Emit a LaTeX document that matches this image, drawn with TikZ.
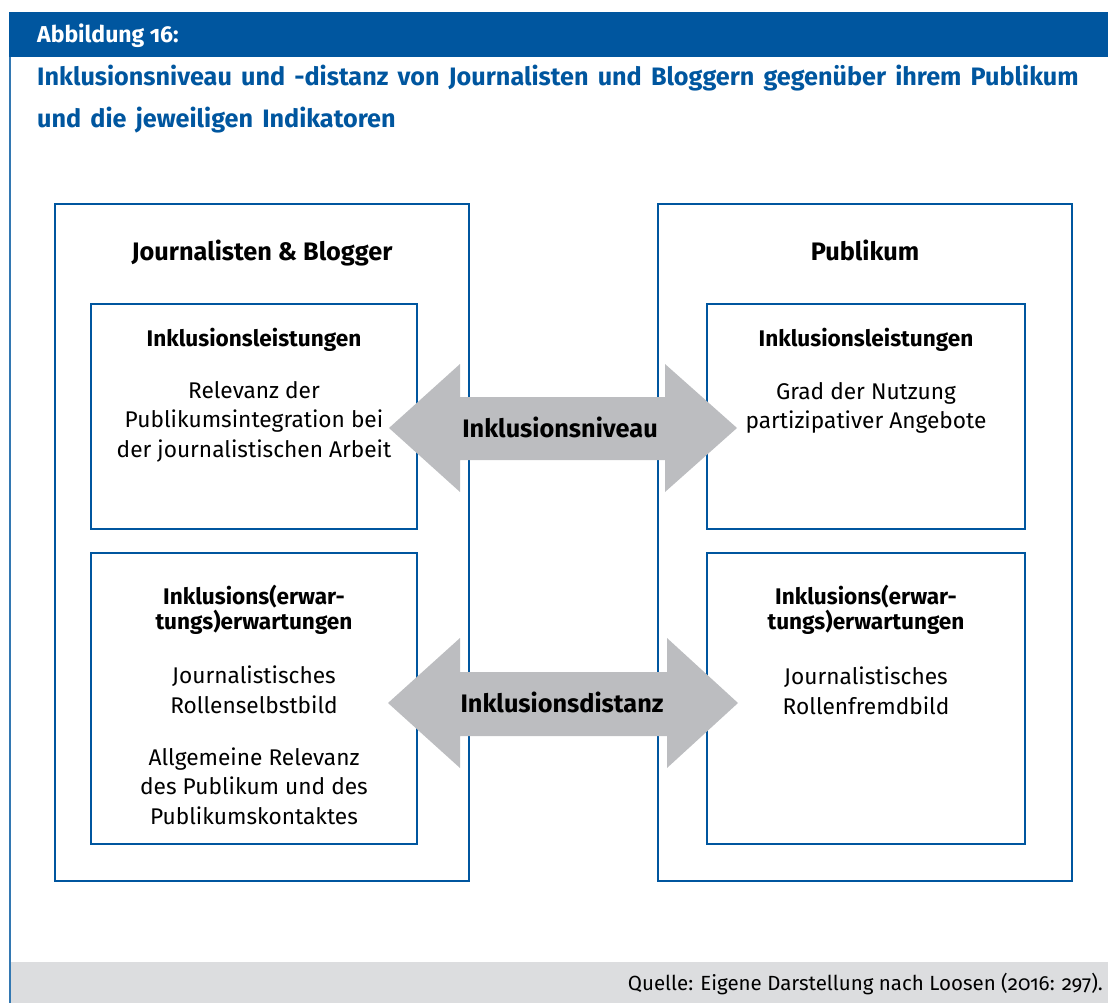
\documentclass[tikz,border=0pt]{standalone}
\usepackage{fontspec}
\setmainfont{Fira Sans}[Numbers=OldStyle]
\definecolor{hblue}{HTML}{00569F}
\definecolor{agray}{HTML}{BCBDC0}
\definecolor{fgray}{HTML}{DCDDDF}
\newcommand\mywordsp{\spaceskip=9.2pt plus 1pt minus 1pt\relax}
\begin{document}
\begin{tikzpicture}[x=1pt,y=-1pt,
  frame/.style={draw=hblue,line width=2.2pt,inner sep=0pt,outer sep=0pt,anchor=north west},
  headtxt/.style={font=\fontsize{23}{26}\selectfont\bfseries,text=white,anchor=base west,inner sep=0pt},
  titletxt/.style={font=\fontsize{25.2}{42}\selectfont\bfseries,text=hblue,anchor=base west,inner sep=0pt,align=left},
  coltitle/.style={font=\fontsize{25.3}{28}\selectfont\bfseries,anchor=base,inner sep=0pt},
  boxhead/.style={font=\fontsize{22.6}{24.5}\selectfont\bfseries,anchor=base,inner sep=0pt,align=center},
  boxbody/.style={font=\fontsize{22.7}{29.5}\selectfont,anchor=base,inner sep=0pt,align=center},
  bigarrow/.style={fill=agray},
  arrowtxt/.style={font=\fontsize{25.3}{28}\selectfont\bfseries,anchor=base,inner sep=0pt},
  foottxt/.style={font=\fontsize{20.5}{24}\selectfont,anchor=base east,inner sep=0pt}]
\useasboundingbox (0,0) rectangle (1108,1003);
% header bar, side line and footer
\fill[hblue] (9,12) rectangle (1108,57);
\fill[fgray] (10,962) rectangle (1108,1003);
\draw[hblue!80,line width=2pt] (10,57) -- (10,1003);
\node[headtxt] (abb) at (37,43) {Abbildung 16:};
\node[titletxt] (title) at (37,128) {\mywordsp Inklusionsniveau und -distanz von Journalisten und Bloggern gegenüber ihrem Publikum\\\mywordsp und die jeweiligen Indikatoren};
\node[foottxt] (quelle) at (1103,990) {Quelle: Eigene Darstellung nach Loosen (2016: 297).};
% outer boxes
\node[frame,minimum width=414pt,minimum height=677pt] (jb) at (55,204) {};
\node[frame,minimum width=414pt,minimum height=677pt] (pub) at (658,204) {};
\node[coltitle] (jbt) at (262,260) {Journalisten \& Blogger};
\node[coltitle] (pubt) at (865,260) {Publikum};
% inner boxes
\node[frame,minimum width=326pt,minimum height=225pt] (jl) at (91,304) {};
\node[frame,minimum width=326pt,minimum height=291pt] (je) at (91,553) {};
\node[frame,minimum width=318pt,minimum height=225pt] (pl) at (707,304) {};
\node[frame,minimum width=318pt,minimum height=291pt] (pe) at (707,553) {};
% inner texts
\node[boxhead] (jlh) at (254,346) {Inklusionsleistungen};
\node[boxbody] (jlb) at (254,457) {Relevanz der\\Publikumsintegration bei\\der journalistischen Arbeit};
\node[boxhead] (jeh) at (254,629) {Inklusions(erwar-\\tungs)erwartungen};
\node[boxbody] (jeb1) at (254,713) {Journalistisches\\Rollenselbstbild};
\node[boxbody] (jeb2) at (254,824) {Allgemeine Relevanz\\des Publikum und des\\Publikumskontaktes};
\node[boxhead] (plh) at (866,346) {Inklusionsleistungen};
\node[boxbody] (plb) at (866,428.5) {Grad der Nutzung\\partizipativer Angebote};
\node[boxhead] (peh) at (866,629) {Inklusions(erwar-\\tungs)erwartungen};
\node[boxbody] (peb) at (866,714) {Journalistisches\\Rollenfremdbild};
% double arrows
\fill[bigarrow] (389,428) -- (460,364) -- (460,397) -- (665,397) -- (665,364) -- (737,428)
  -- (665,492) -- (665,460) -- (460,460) -- (460,492) -- cycle;
\node[arrowtxt] (niveau) at (560,437) {Inklusionsniveau};
\fill[bigarrow] (388,703) -- (460,638) -- (460,672) -- (667,672) -- (667,638) -- (738,703)
  -- (667,768) -- (667,736) -- (460,736) -- (460,768) -- cycle;
\node[arrowtxt] (distanz) at (562,712) {Inklusionsdistanz};
\end{tikzpicture}
\end{document}
